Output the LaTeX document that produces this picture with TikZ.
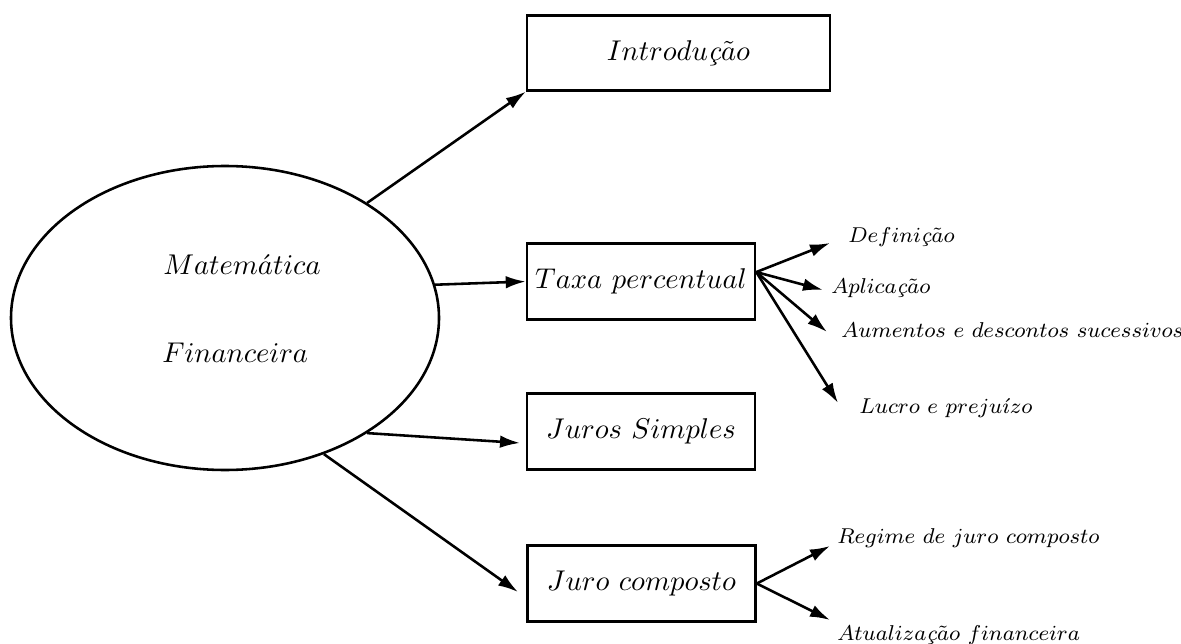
\documentclass[tikz,border=0pt]{standalone}
\usetikzlibrary{shapes.geometric,arrows.meta}
% italic c-cedilla for use inside math-italic labels
\newcommand{\cced}{\mbox{\itshape ç}}
% box caption, set slightly below the middle of its box
\newcommand{\boxtext}[1]{\raisebox{-2pt}{#1}}
% small caption for the sub-topics
\newcommand{\subtext}[1]{\scalebox{0.94}{\footnotesize #1}}
\begin{document}
\begin{tikzpicture}[x=0.35pt,y=-0.35pt,line width=0.9pt,
  conn/.style={-{Latex[length=7pt,width=4.4pt]}},
  topic/.style={draw,rectangle,minimum width=79.8pt,minimum height=26.6pt,inner sep=0pt},
  sublabel/.style={anchor=base west,inner sep=0pt},
  plain/.style={anchor=base west,inner sep=0pt}]
\useasboundingbox (0,0) rectangle (1181,644);

% central ellipse
\node[draw,ellipse,minimum width=149.8pt,minimum height=106.4pt,inner sep=0pt] (mf) at (225,318) {};
\node[plain] (mat) at (162,275) {$Matem\acute{a}tica$};
\node[plain] (fin) at (161,362) {$Financeira$};

% topic boxes
\node[topic,minimum width=106pt,minimum height=26.2pt] (intro) at (678.5,53) {\boxtext{$Introdu\cced\tilde{a}o$}};
\node[topic] (taxa) at (641,281.5) {\boxtext{$Taxa\ percentual$}};
\node[topic] (js) at (641,431.5) {\boxtext{$Juros\ Simples$}};
\node[topic] (jc) at (641.5,583.5) {\boxtext{$Juro\ composto$}\hspace{6.6pt}};

% arrows from the ellipse
\coordinate (jstip) at (520,443);
\coordinate (jctip) at (518,592);
\draw[conn] (mf.39.4) -- (intro.south west);
\draw[conn] (mf.9.4) -- (taxa.west);
\draw[conn] (mf.-39.6) -- (jstip);
\draw[conn] (mf.-54) -- (jctip);

% sub-topics of Taxa percentual
\coordinate (tp) at ([yshift=3.3pt]taxa.east);
\node[sublabel] (def) at (847,243) {\subtext{$Defini\cced\tilde{a}o$}};
\node[sublabel] (apl) at (830,293) {\subtext{$Aplica\cced\tilde{a}o$}};
\node[sublabel] (aum) at (840,337) {\subtext{$Aumentos\ e\ descontos\ sucessivos$}};
\node[sublabel] (luc) at (858,413) {\subtext{$Lucro\ e\ preju\acute{\imath}zo$}};
\coordinate (tdef) at (830,243);
\coordinate (tapl) at (823,290);
\coordinate (taum) at (827,332);
\coordinate (tluc) at (838,403);
\draw[conn] (tp) -- (tdef);
\draw[conn] (tp) -- (tapl);
\draw[conn] (tp) -- (taum);
\draw[conn] (tp) -- (tluc);

% sub-topics of Juro composto
\node[sublabel] (reg) at (836,543) {\subtext{$Regime\ de\ juro\ composto$}};
\node[sublabel] (atu) at (836,640) {\subtext{$Atualiza\cced\tilde{a}o\ financeira$}};
\coordinate (treg) at (830,546);
\coordinate (tatu) at (830,620);
\draw[conn] (jc.east) -- (treg);
\draw[conn] (jc.east) -- (tatu);
\end{tikzpicture}
\end{document}
